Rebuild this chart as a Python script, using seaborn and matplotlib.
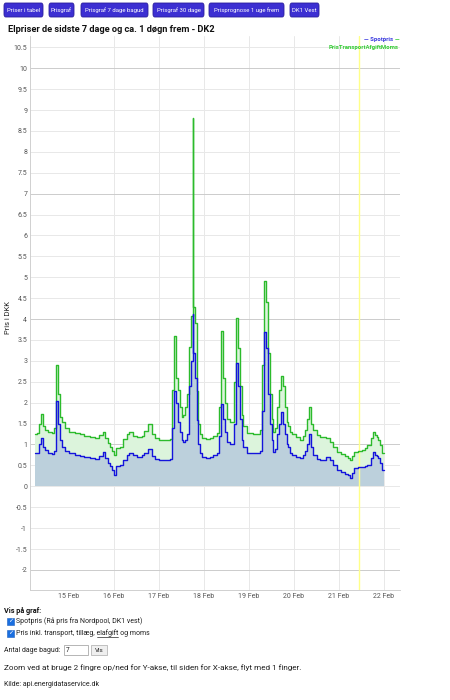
import pandas as pd
import numpy as np
import matplotlib
matplotlib.use("Agg")
import matplotlib.pyplot as plt
import matplotlib.dates as mdates
from matplotlib.patches import FancyBboxPatch, Rectangle
import seaborn as sns

# timer fra 14 Feb 00:00, spotpris og pris inkl. transport/afgift/moms (DKK/kWh)
start_date = "2024-02-14"
hours = [6, 7, 8, 9, 10, 11, 13, 15, 16, 17, 18, 19, 20, 22, 24, 27, 30, 32, 35, 38,
         40, 42, 43, 45, 46, 47, 48, 49, 51, 53, 55, 56, 58, 60, 63, 64, 66, 68, 70, 72,
         75, 78, 79, 80, 81, 82, 83, 84, 85, 86, 87, 88, 89, 90, 90.25, 91, 92, 93, 94, 95, 97,
         99, 101, 103, 104, 105, 106, 107, 108, 110, 111, 112, 113, 114, 115, 116, 117, 119, 122, 125, 126,
         127, 128, 129, 130, 131, 132, 133, 134, 135, 136, 137, 138, 139, 140, 141, 142, 143, 145, 147, 149,
         150, 151, 152, 153, 154, 156, 158, 161, 163, 165, 167, 169, 171, 173, 174, 175, 176, 178, 180, 182,
         183, 185, 186, 187, 188, 189, 190, 191, 192]
spot = [0.79, 0.80, 1.00, 1.15, 0.95, 0.86, 0.80, 0.78, 0.85, 2.05, 1.50, 1.10, 0.93, 0.85, 0.79, 0.75, 0.72, 0.70, 0.67, 0.65,
        0.72, 0.81, 0.68, 0.55, 0.48, 0.40, 0.26, 0.48, 0.50, 0.62, 0.74, 0.79, 0.76, 0.69, 0.74, 0.80, 0.90, 0.72, 0.65, 0.62,
        0.62, 0.65, 1.40, 2.29, 2.00, 1.53, 1.30, 1.10, 1.05, 1.10, 1.26, 2.41, 3.00, 4.13, 3.20, 2.60, 1.58, 1.00, 0.79, 0.70, 0.67,
        0.70, 0.74, 0.79, 1.20, 1.98, 1.60, 1.30, 1.05, 1.02, 1.00, 1.50, 2.96, 2.40, 1.60, 1.10, 0.93, 0.80, 0.79, 0.79, 0.85,
        1.80, 3.68, 3.30, 2.20, 1.50, 1.10, 0.81, 0.90, 1.26, 1.50, 1.77, 1.50, 1.26, 1.00, 0.93, 0.80, 0.74, 0.70, 0.67, 0.75,
        0.85, 1.00, 1.26, 0.95, 0.74, 0.66, 0.62, 0.70, 0.62, 0.50, 0.38, 0.35, 0.30, 0.28, 0.21, 0.33, 0.43, 0.45, 0.45, 0.48,
        0.52, 0.68, 0.81, 0.76, 0.72, 0.67, 0.55, 0.38, 0.38]
total = [1.26, 1.28, 1.50, 1.72, 1.45, 1.34, 1.30, 1.28, 1.40, 2.89, 2.20, 1.65, 1.53, 1.40, 1.31, 1.27, 1.24, 1.20, 1.17, 1.15,
         1.22, 1.29, 1.15, 1.03, 0.93, 0.85, 0.75, 0.92, 0.93, 1.14, 1.26, 1.29, 1.20, 1.17, 1.20, 1.32, 1.50, 1.25, 1.15, 1.10,
         1.10, 1.12, 2.30, 3.60, 2.60, 2.30, 1.90, 1.65, 1.70, 1.89, 2.20, 3.32, 4.08, 8.81, 4.30, 3.90, 2.29, 1.50, 1.26, 1.16, 1.14,
         1.16, 1.20, 1.28, 1.90, 3.72, 2.60, 2.00, 1.60, 1.55, 1.55, 2.50, 4.03, 3.30, 2.40, 1.70, 1.45, 1.27, 1.26, 1.26, 1.35,
         2.90, 4.92, 4.40, 3.20, 2.20, 1.60, 1.30, 1.40, 1.90, 2.30, 2.65, 2.40, 1.90, 1.55, 1.45, 1.30, 1.25, 1.18, 1.10, 1.20,
         1.35, 1.60, 1.89, 1.50, 1.34, 1.22, 1.17, 1.15, 1.07, 0.95, 0.81, 0.78, 0.72, 0.68, 0.62, 0.72, 0.81, 0.84, 0.86, 0.92,
         0.98, 1.15, 1.29, 1.22, 1.18, 1.10, 0.98, 0.79, 0.79]
now_marker = "2024-02-21 10:30"
day_ticks = ["2024-02-15", "2024-02-16", "2024-02-17", "2024-02-18",
             "2024-02-19", "2024-02-20", "2024-02-21", "2024-02-22"]
y_ticks = np.arange(-2, 10.51, 0.5)
strong_grid = [-2, 1, 4, 7, 10]
buttons = ["Priser i tabel", "Prisgraf", "Prisgraf 7 dage bagud", "Prisgraf 30 dage",
           "Prisprognose 1 uge frem", "DK1 Vest"]
button_x = [(4, 43), (49, 74), (81, 148), (153, 204), (209, 284), (290, 319)]

sns.set_style("white")
plt.rcParams['font.family'] = ['Roboto', 'DejaVu Sans']

W, H = 450, 700
def fx(x):
    return x / W
def fy(y):
    return 1 - y / H

fig = plt.figure(figsize=(4.5, 7), dpi=100)
fig.patch.set_facecolor("white")
renderer = fig.canvas.get_renderer()

def text_width(s, **kw):
    t = fig.text(0, 0, s, **kw)
    w = t.get_window_extent(renderer).width
    t.remove()
    return w

# knapper i toppen
for label, (x0, x1) in zip(buttons, button_x):
    fig.patches.append(FancyBboxPatch((fx(x0), fy(17)), fx(x1 - x0), 14 / H,
                                      boxstyle="round,pad=0,rounding_size=0.004",
                                      transform=fig.transFigure, facecolor="#3c2fd2",
                                      edgecolor="#2a1e9c", lw=0.6))
    fig.text(fx((x0 + x1) / 2), fy(10), label, color="white", fontsize=4.3,
             ha="center", va="center")

fig.text(fx(8), fy(29), "Elpriser de sidste 7 dage og ca. 1 døgn frem - DK2",
         fontsize=6.7, fontweight="bold", color="#111111", va="center")

ax = fig.add_axes([fx(30), fy(590), 370 / W, 554 / H])
df = pd.DataFrame({
    "tid": pd.to_datetime(start_date) + pd.to_timedelta(hours, unit="h"),
    "Spotpris": spot,
    "PrisTransportAfgiftMoms": total,
})
ax.fill_between(df["tid"], 0, df["PrisTransportAfgiftMoms"], step="post",
                color="#dcf4dc", lw=0)
ax.fill_between(df["tid"], 0, df["Spotpris"], step="post", color="#bcd0dc", lw=0)
sns.lineplot(data=df, x="tid", y="PrisTransportAfgiftMoms", drawstyle="steps-post",
             color="#2cbb2c", lw=1.0, ax=ax)
sns.lineplot(data=df, x="tid", y="Spotpris", drawstyle="steps-post",
             color="#1414dc", lw=1.0, ax=ax)
ax.axvline(pd.to_datetime(now_marker), color="#ffff88", lw=1.0, zorder=1)

ax.set_xlim(pd.to_datetime(start_date) + pd.Timedelta(hours=3.2),
            pd.to_datetime(start_date) + pd.Timedelta(hours=200.5))
ax.set_ylim(-2.48, 10.77)
ax.set_yticks(y_ticks)
ax.set_yticklabels([f"{v:g}" for v in y_ticks])
ax.set_xticks(pd.to_datetime(day_ticks))
ax.xaxis.set_major_formatter(mdates.DateFormatter("%d %b"))
ax.tick_params(length=0, labelsize=5.0, colors="#555555", pad=2)
ax.set_xlabel("")
ax.set_ylabel("")
ax.grid(True, color="#e8e8e8", lw=0.7)
for v, gl in zip(y_ticks, ax.get_ygridlines()):
    if v in strong_grid:
        gl.set_color("#cccccc")
ax.get_xgridlines()[0].set_visible(False)
ax.set_axisbelow(True)
for s in ["top", "right"]:
    ax.spines[s].set_visible(False)
for s in ["left", "bottom"]:
    ax.spines[s].set_color("#d0d0d0")
    ax.spines[s].set_linewidth(0.7)

fig.text(fx(8), fy(318), "Pris i DKK", rotation=90, fontsize=5.4, color="#222222",
         ha="center", va="center")

# legende: "— Spotpris" blå, "— PrisTransportAfgiftMoms" grøn (brudt over to linjer)
leg_kw = dict(fontsize=4.3, fontweight="bold", ha="right", va="center")
dash_w = text_width("—", **leg_kw)
fig.text(fx(399), fy(40), "—", color="#33cc33", **leg_kw)
fig.text(fx(399) - (dash_w + 1.5) / W, fy(40), "— Spotpris", color="#3a3ae0", **leg_kw)
fig.text(fx(399), fy(47.5), "PrisTransportAfgiftMoms", color="#33cc33", **leg_kw)

# formular under grafen
fig.text(fx(4), fy(611), "Vis på graf:", fontsize=5.2, fontweight="bold", va="center",
         color="#111111")
for yy in (621, 633):
    fig.patches.append(Rectangle((fx(7), fy(yy + 3.5)), 7 / W, 7 / H,
                                 transform=fig.transFigure, facecolor="#1a6fe0",
                                 edgecolor="#1a5fc0", lw=0.4))
    fig.text(fx(10.5), fy(yy), "✓", fontsize=4.5, color="white", ha="center",
             va="center", family=["DejaVu Sans"], fontweight="bold")
fig.text(fx(16), fy(621), "Spotpris (Rå pris fra Nordpool, DK1 vest)", fontsize=5.0,
         va="center", color="#222222")

line2 = "Pris inkl. transport, tillæg, elafgift og moms"
prefix = "Pris inkl. transport, tillæg, elafgift"
fig.text(fx(16), fy(633), line2, fontsize=5.0, va="center", color="#222222")
u_end = 16 + text_width(prefix, fontsize=5.0)
u_start = u_end - text_width("elafgift", fontsize=5.0)
fig.lines.append(plt.Line2D([fx(u_start), fx(u_end)], [fy(637), fy(637)],
                            transform=fig.transFigure, color="#222222", lw=0.5))

fig.text(fx(4), fy(650), "Antal dage bagud:", fontsize=5.0, va="center", color="#222222")
fig.patches.append(Rectangle((fx(64), fy(655)), 24 / W, 10 / H, transform=fig.transFigure,
                             facecolor="white", edgecolor="#999999", lw=0.5))
fig.text(fx(66), fy(650), "7", fontsize=4.8, va="center", color="#222222")
fig.patches.append(Rectangle((fx(91), fy(655)), 16 / W, 10 / H, transform=fig.transFigure,
                             facecolor="#efefef", edgecolor="#aaaaaa", lw=0.5))
fig.text(fx(99), fy(650), "Vis", fontsize=4.5, va="center", ha="center", color="#222222")

fig.text(fx(4), fy(668), "Zoom ved at bruge 2 fingre op/ned for Y-akse, til siden for X-akse, flyt med 1 finger.",
         fontsize=5.85, va="center", color="#222222")
fig.text(fx(4), fy(684), "Kilde: api.energidataservice.dk", fontsize=5.0, va="center",
         color="#222222")

fig.savefig("out.png", dpi=100, facecolor="white")
